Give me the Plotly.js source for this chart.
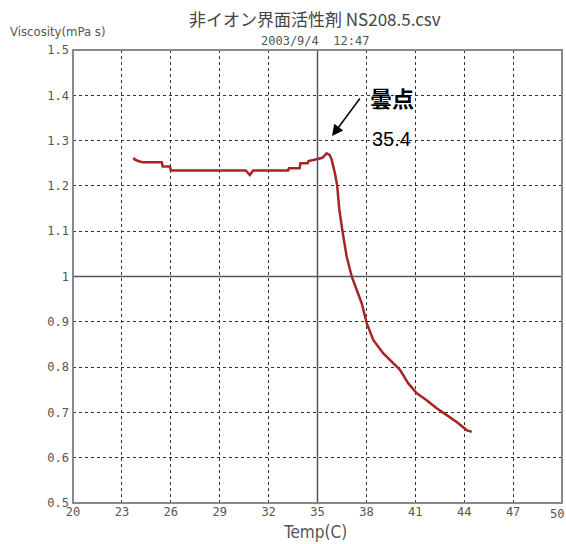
<!DOCTYPE html>
<html>
<head>
<meta charset="utf-8">
<script src="https://cdn.plot.ly/plotly-3.0.1.min.js"></script>
<style>
  html, body { margin: 0; padding: 0; background: #fff; }
  #chart { width: 566px; height: 544px; }
</style>
</head>
<body>
<div id="chart"></div>
<script>
// Viscosity vs temperature of a non-ionic surfactant solution
const temps = [
  23.7, 23.8, 24.0, 24.3, 25.45, 25.5, 25.95, 26.0, 26.55, 30.6,
  30.85, 31.05, 33.2, 33.25, 33.9, 33.95, 34.4, 34.45, 34.75, 35.0,
  35.3, 35.56, 35.75, 35.87, 36.0, 36.07, 36.21, 36.34, 36.55, 36.79,
  37.1, 37.4, 37.71, 38.02, 38.42, 39.04, 39.55, 40.06, 40.57, 41.09,
  41.7, 42.31, 42.93, 43.54, 44.15, 44.46
];
const viscosity = [
  1.262, 1.258, 1.255, 1.252, 1.252, 1.243, 1.243, 1.234, 1.234, 1.234,
  1.224, 1.234, 1.234, 1.239, 1.239, 1.250, 1.250, 1.255, 1.257, 1.260,
  1.262, 1.272, 1.268, 1.258, 1.240, 1.228, 1.200, 1.147, 1.096, 1.044,
  1.000, 0.970, 0.941, 0.897, 0.860, 0.830, 0.812, 0.794, 0.764, 0.742,
  0.727, 0.709, 0.694, 0.679, 0.661, 0.657
];

const xTicks = [20, 23, 26, 29, 32, 35, 38, 41, 44, 47, 50];
const yTicks = [0.5, 0.6, 0.7, 0.8, 0.9, 1.0, 1.1, 1.2, 1.3, 1.4, 1.5];
const yTickText = ['0.5', '0.6', '0.7', '0.8', '0.9', '1', '1.1', '1.2', '1.3', '1.4', '1.5'];

const cloudPointLabel = '曇点';
const cloudPointValue = 35.4;

const tickFont = { family: 'DejaVu Sans Mono, monospace', size: 12, color: '#555' };
const gridDash = '3px,3px';

// The last x label sits at the page edge, so it is placed right-aligned by hand
const lastX = xTicks[xTicks.length - 1];
const xTickText = xTicks.map(v => (v === lastX ? '' : String(v)));

const trace = {
  x: temps,
  y: viscosity,
  type: 'scatter',
  mode: 'lines',
  line: { color: '#a82424', width: 2.5 },
  hoverinfo: 'x+y'
};

const layout = {
  width: 566,
  height: 544,
  margin: { l: 73, r: 4, t: 50, b: 41 },
  paper_bgcolor: '#fff',
  plot_bgcolor: '#fff',
  showlegend: false,
  xaxis: {
    range: [20, 50],
    tickvals: xTicks,
    ticktext: xTickText,
    tickfont: tickFont,
    ticklabeloverflow: 'allow',
    showgrid: true,
    gridcolor: '#333',
    griddash: gridDash,
    gridwidth: 1,
    zeroline: false,
    showline: false,
    ticks: '',
    fixedrange: true
  },
  yaxis: {
    range: [0.5, 1.5],
    tickvals: yTicks,
    ticktext: yTickText,
    tickfont: tickFont,
    ticklabeloverflow: 'allow',
    showgrid: true,
    gridcolor: '#333',
    griddash: gridDash,
    gridwidth: 1,
    zeroline: false,
    showline: false,
    ticks: '',
    ticklabelstandoff: 3,
    fixedrange: true
  },
  shapes: [
    { type: 'line', xref: 'x', yref: 'paper', x0: 35, x1: 35, y0: 0, y1: 1,
      line: { color: '#555', width: 1.5 } },
    { type: 'line', xref: 'paper', yref: 'y', x0: 0, x1: 1, y0: 1, y1: 1,
      line: { color: '#555', width: 1.5 } },
    { type: 'rect', xref: 'paper', yref: 'paper', x0: 0, x1: 1, y0: 0, y1: 1,
      line: { color: '#888', width: 2 }, fillcolor: 'rgba(0,0,0,0)' }
  ],
  annotations: [
    { text: String(lastX), xref: 'paper', yref: 'paper',
      x: 1.007, y: -0.0245, xanchor: 'right', yanchor: 'middle', showarrow: false,
      borderpad: 0, font: tickFont },
    { text: '非イオン界面活性剤 NS208.5.csv', xref: 'paper', yref: 'paper',
      x: 0.495, y: 1.069, xanchor: 'center', yanchor: 'middle', showarrow: false,
      font: { family: 'Noto Sans CJK JP, DejaVu Sans', size: 17, color: '#444' } },
    { text: '2003/9/4  12:47', xref: 'paper', yref: 'paper',
      x: 0.495, y: 1.019, xanchor: 'center', yanchor: 'middle', showarrow: false,
      font: { family: 'DejaVu Sans Mono, monospace', size: 12, color: '#555' } },
    { text: 'Viscosity(mPa s)', xref: 'paper', yref: 'paper',
      x: -0.133, y: 1.04, xanchor: 'left', yanchor: 'middle', showarrow: false,
      font: { family: 'DejaVu Sans Condensed, DejaVu Sans', size: 13, color: '#555' } },
    { text: 'Temp(C)', xref: 'paper', yref: 'paper',
      x: 0.495, y: -0.064, xanchor: 'center', yanchor: 'middle', showarrow: false,
      font: { family: 'DejaVu Sans Condensed, DejaVu Sans', size: 17, color: '#555' } },
    { text: '<b>' + cloudPointLabel + '</b>', xref: 'x', yref: 'y',
      x: 39.57, y: 1.396, xanchor: 'center', yanchor: 'middle', showarrow: false,
      font: { family: 'Noto Sans CJK JP', size: 22, color: '#000' } },
    { text: String(cloudPointValue), xref: 'x', yref: 'y',
      x: 39.57, y: 1.304, xanchor: 'center', yanchor: 'middle', showarrow: false,
      font: { family: 'Liberation Sans, Arial', size: 20, color: '#000' } },
    { text: '', xref: 'x', yref: 'y', x: 35.89, y: 1.31,
      showarrow: true, arrowhead: 2, arrowsize: 1.5, arrowwidth: 1.5,
      arrowcolor: '#000', ax: 29, ay: -39, standoff: 0 }
  ]
};

Plotly.newPlot('chart', [trace], layout, { displayModeBar: false, staticPlot: true });
</script>
</body>
</html>
